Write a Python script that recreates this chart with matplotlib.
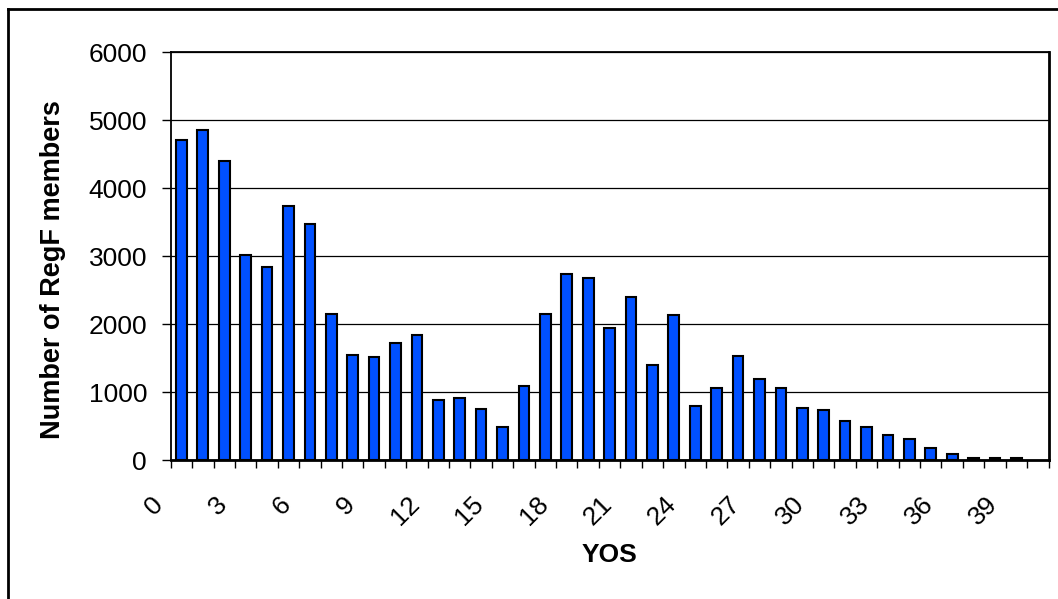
import matplotlib
matplotlib.use('Agg')
import matplotlib.pyplot as plt
from matplotlib.transforms import ScaledTranslation
from matplotlib.lines import Line2D

# -- DATA --
yos = list(range(40))
members = [4700, 4850, 4400, 3010, 2840, 3740, 3470, 2140, 1540, 1510,
           1720, 1840, 880, 905, 755, 485, 1090, 2140, 2740, 2670,
           1940, 2400, 1400, 2130, 795, 1065, 1525, 1185, 1065, 760,
           730, 580, 490, 365, 305, 180, 95, 35, 35, 30]
n_slots = 41  # one empty slot at the end
tick_labels = [str(v) for v in range(0, 40, 3)]

plt.rcParams['font.family'] = ['Liberation Sans', 'DejaVu Sans']

W, H = 1058, 599
fig = plt.figure(figsize=(W / 100, H / 100), dpi=100)
ax = fig.add_axes([170.7 / W, 1 - 460 / H, (1048.5 - 170.7) / W, (460 - 52) / H])

# -- BARS --
ax.bar(yos, members, width=0.5, color='#0050FF', edgecolor='black',
       linewidth=1.5, zorder=3)

ax.set_xlim(-0.5, n_slots - 0.5)
ax.set_ylim(0, 6000)

# -- GRID & SPINES --
ax.set_yticks(range(0, 6001, 1000))
ax.yaxis.grid(True, color='black', linewidth=0.9, zorder=0)
for side in ['left', 'top']:
    ax.spines[side].set_linewidth(1.3)
for side in ['right', 'bottom']:
    ax.spines[side].set_linewidth(2.0)

# -- TICKS --
ax.set_xticks(range(0, 40, 3))
ax.set_xticklabels(tick_labels, rotation=45, ha='right', va='top')
ax.set_xticks([i - 0.5 for i in range(n_slots + 1)], minor=True)
ax.tick_params(axis='x', which='major', length=0, pad=23, labelsize=19)
ax.tick_params(axis='x', which='minor', length=6, width=1, direction='out')
ax.tick_params(axis='y', length=6.5, width=1, pad=10.5, labelsize=19)

offset = ScaledTranslation(-14 / 100, 0, fig.dpi_scale_trans)
for lbl in ax.get_xticklabels():
    lbl.set_transform(lbl.get_transform() + offset)

# -- LABELS --
ax.set_xlabel('YOS', fontsize=19, fontweight='bold')
ax.xaxis.set_label_coords(0.5, -0.234)
ax.xaxis.label.set_va('center')
ax.set_ylabel('Number of RegF members', fontsize=19.5, fontweight='bold')
ax.yaxis.set_label_coords((53 - 170.7) / 877.8, (460 - 270) / 408)
ax.yaxis.label.set_va('center')

# outer chart border (left and top only are visible)
fig.add_artist(Line2D([7.5 / W, 7.5 / W], [0, 1 - 8.5 / H], color='black',
                      linewidth=2, transform=fig.transFigure))
fig.add_artist(Line2D([7.5 / W, 1], [1 - 8.5 / H, 1 - 8.5 / H], color='black',
                      linewidth=2, transform=fig.transFigure))

fig.savefig('out.png', dpi=100)
plt.close(fig)
